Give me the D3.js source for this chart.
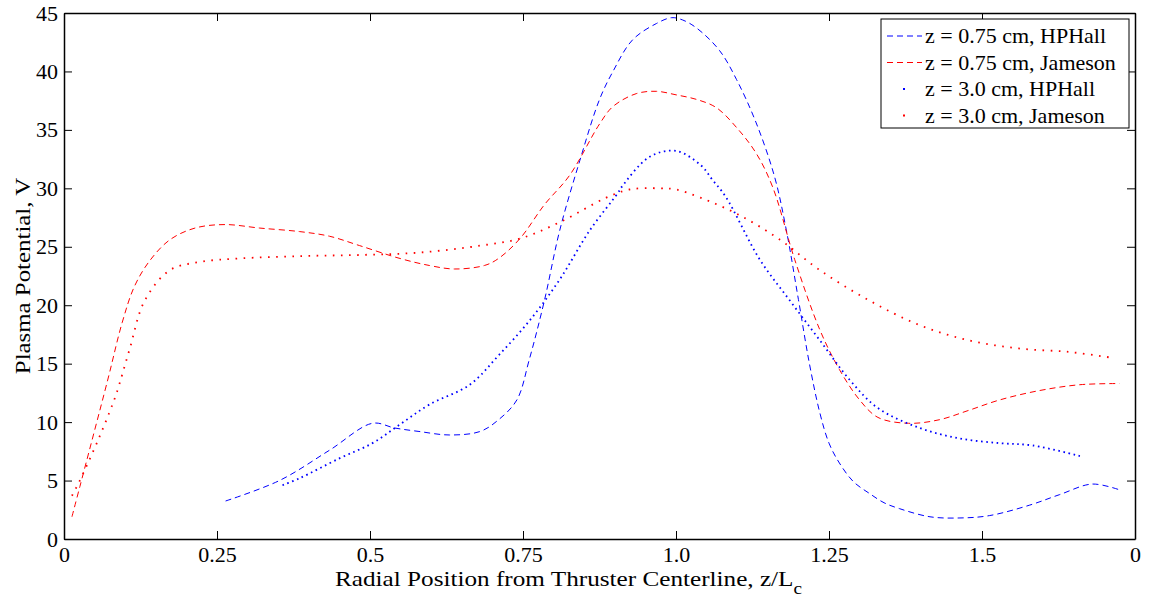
<!DOCTYPE html>
<html>
<head>
<meta charset="utf-8">
<script src="https://cdn.jsdelivr.net/npm/d3@7/dist/d3.min.js"></script>
<style>
  body { margin: 0; background: #fff; }
  svg text { font-family: "Liberation Serif", "Times New Roman", Tinos, "DejaVu Serif", serif; fill: #000; }
</style>
</head>
<body>
<div id="chart"></div>
<script>
// x tick values and the labels printed under them (last one reads "0" in the original)
var xTicks = [0, 0.25, 0.5, 0.75, 1.0, 1.25, 1.5, 1.75];
var xTickLabels = ["0", "0.25", "0.5", "0.75", "1.0", "1.25", "1.5", "0"];
var yTicks = [0, 5, 10, 15, 20, 25, 30, 35, 40, 45];

// z = 0.75 cm, HPHall
var hp075X = [0.264, 0.352, 0.434, 0.504, 0.54, 0.58, 0.63, 0.68, 0.71, 0.74, 0.76, 0.785, 0.81, 0.843, 0.875, 0.897, 0.929, 0.968, 0.993, 1.011, 1.034, 1.071, 1.099, 1.131, 1.161, 1.18, 1.2, 1.218, 1.235, 1.25, 1.267, 1.29, 1.316, 1.34, 1.365, 1.415, 1.464, 1.512, 1.578, 1.627, 1.68, 1.725];
var hp075Y = [3.25, 5.0, 7.6, 9.9, 9.5, 9.2, 8.9, 9.2, 10.2, 11.9, 15.3, 20.4, 26.4, 32.4, 37.6, 40.0, 42.7, 44.1, 44.6, 44.4, 43.7, 41.8, 39.3, 35.6, 31.0, 26.5, 20.5, 15.0, 10.8, 8.2, 6.5, 4.9, 3.9, 3.1, 2.6, 1.9, 1.8, 2.0, 2.9, 3.8, 4.7, 4.2];

// z = 0.75 cm, Jameson
var jm075X = [0.013, 0.026, 0.0714, 0.095, 0.115, 0.14, 0.173, 0.214, 0.263, 0.32, 0.385, 0.434, 0.483, 0.549, 0.597, 0.638, 0.687, 0.71, 0.745, 0.785, 0.826, 0.875, 0.897, 0.935, 0.968, 1.0, 1.034, 1.066, 1.099, 1.131, 1.158, 1.194, 1.235, 1.267, 1.3, 1.33, 1.38, 1.43, 1.478, 1.529, 1.594, 1.66, 1.725];
var jm075Y = [1.9, 4.5, 13.6, 18.5, 21.6, 23.8, 25.6, 26.6, 26.9, 26.6, 26.3, 25.9, 25.1, 24.0, 23.4, 23.1, 23.4, 24.0, 25.7, 28.6, 31.1, 35.5, 37.0, 38.1, 38.3, 38.0, 37.6, 36.9, 35.2, 33.0, 30.1, 23.9, 17.9, 14.5, 11.9, 10.4, 9.9, 10.2, 11.0, 11.9, 12.7, 13.2, 13.3];

// z = 3.0 cm, HPHall
var hp30X = [0.357, 0.385, 0.45, 0.504, 0.549, 0.597, 0.663, 0.71, 0.761, 0.81, 0.859, 0.905, 0.911, 0.957, 1.0, 1.04, 1.06, 1.081, 1.137, 1.186, 1.235, 1.284, 1.33, 1.398, 1.464, 1.529, 1.583, 1.66];
var hp30Y = [4.6, 5.2, 6.9, 8.2, 9.8, 11.5, 13.2, 15.7, 18.7, 22.2, 26.4, 29.6, 30.1, 32.7, 33.2, 32.0, 30.7, 29.3, 23.9, 20.4, 17.0, 13.6, 11.2, 9.5, 8.6, 8.2, 8.0, 7.1];

// z = 3.0 cm, Jameson
var jm30X = [0.013, 0.024, 0.0485, 0.0616, 0.0747, 0.086, 0.107, 0.132, 0.173, 0.222, 0.287, 0.385, 0.483, 0.58, 0.68, 0.745, 0.81, 0.886, 0.924, 0.973, 1.0, 1.04, 1.104, 1.17, 1.235, 1.316, 1.398, 1.478, 1.56, 1.643, 1.713];
var jm30Y = [3.7, 4.8, 7.6, 9.2, 10.9, 12.5, 16.2, 20.4, 23.0, 23.7, 24.0, 24.2, 24.3, 24.5, 25.1, 25.7, 27.1, 29.2, 29.9, 30.0, 29.9, 29.2, 27.7, 25.6, 23.0, 20.4, 18.3, 17.0, 16.3, 16.0, 15.5];

var seriesNames = ["z = 0.75 cm, HPHall", "z = 0.75 cm, Jameson", "z = 3.0 cm, HPHall", "z = 3.0 cm, Jameson"];

var width = 1153, height = 599,
    margin = {top: 13, right: 18, bottom: 60, left: 64};
var w = width - margin.left - margin.right,
    h = height - margin.top - margin.bottom;
var serif = "'Liberation Serif', 'Times New Roman', Tinos, 'DejaVu Serif', serif";

var svg = d3.select("#chart").append("svg")
  .attr("width", width)
  .attr("height", height)
  .attr("font-family", serif);
var g = svg.append("g").attr("transform", `translate(${margin.left},${margin.top})`);

var x = d3.scaleLinear().domain([0, 1.75]).range([0, w]);
var y = d3.scaleLinear().domain([0, 45]).range([h, 0]);

var series = [
  {name: seriesNames[0], xs: hp075X, ys: hp075Y, color: "#0000ff", dash: "6,4", sw: 1},
  {name: seriesNames[1], xs: jm075X, ys: jm075Y, color: "#ff0000", dash: "6,4", sw: 1},
  {name: seriesNames[2], xs: hp30X, ys: hp30Y, color: "#0000ff", dash: "1.6,3.6", sw: 1.8},
  {name: seriesNames[3], xs: jm30X, ys: jm30Y, color: "#ff0000", dash: "1.6,6.5", sw: 1.8}
];

var line = d3.line()
  .x(d => x(d[0]))
  .y(d => y(d[1]))
  .curve(d3.curveCatmullRom.alpha(0.5));

series.forEach(function(s) {
  var pts = s.xs.map((v, i) => [v, s.ys[i]]);
  g.append("path")
    .datum(pts)
    .attr("fill", "none")
    .attr("stroke", s.color)
    .attr("stroke-width", s.sw)
    .attr("stroke-dasharray", s.dash)
    .attr("d", line);
});

// axes, ticks inside like MATLAB, mirrored on top/right
var fmt = (d, i) => xTickLabels[i];
var xAxis = d3.axisBottom(x).tickValues(xTicks).tickSizeInner(-8).tickSizeOuter(0).tickPadding(7).tickFormat(fmt);
var yAxis = d3.axisLeft(y).tickValues(yTicks).tickSizeInner(-8).tickSizeOuter(0).tickPadding(6);

var gx = g.append("g").attr("transform", `translate(0,${h})`).call(xAxis);
var gy = g.append("g").call(yAxis);
g.append("g").call(d3.axisTop(x).tickValues(xTicks).tickSizeInner(-8).tickSizeOuter(0).tickFormat(""));
g.append("g").attr("transform", `translate(${w},0)`).call(d3.axisRight(y).tickValues(yTicks).tickSizeInner(-8).tickSizeOuter(0).tickFormat(""));

g.selectAll("g").attr("font-family", serif);
g.selectAll(".domain").attr("stroke", "#000").attr("stroke-width", 1.5);
g.selectAll(".tick line").attr("stroke", "#000");
g.selectAll(".tick text").style("font-size", "22px").attr("fill", "#000");
gx.selectAll(".tick text").attr("dy", "0.71em");

// axis titles (the original figure is stretched sideways a little)
var xl = svg.append("text")
  .attr("transform", "translate(335,586) scale(1.2,1)")
  .style("font-size", "21px");
xl.append("tspan").text("Radial Position from Thruster Centerline, z/L");
xl.append("tspan").attr("dy", 8).style("font-size", "16px").text("c");

svg.append("text")
  .attr("transform", "translate(30,276) rotate(-90) scale(1.13,1)")
  .attr("text-anchor", "middle")
  .style("font-size", "22px")
  .text("Plasma Potential, V");

// legend
var lg = svg.append("g").attr("transform", "translate(881,19)");
lg.append("rect")
  .attr("width", 248).attr("height", 109)
  .attr("fill", "#fff").attr("stroke", "#000").attr("stroke-width", 1);

series.forEach(function(s, i) {
  var yy = 17 + i * 26.5;
  if (i < 2) {
    lg.append("line")
      .attr("x1", 6).attr("x2", 41).attr("y1", yy).attr("y2", yy)
      .attr("stroke", s.color).attr("stroke-dasharray", "6,4").attr("stroke-width", 1);
  } else {
    lg.append("rect")
      .attr("x", 22).attr("y", yy - 1).attr("width", 2).attr("height", 2)
      .attr("fill", s.color);
  }
  lg.append("text")
    .attr("x", 44).attr("y", yy + 7)
    .style("font-size", "22px")
    .text(s.name);
});
</script>
</body>
</html>
